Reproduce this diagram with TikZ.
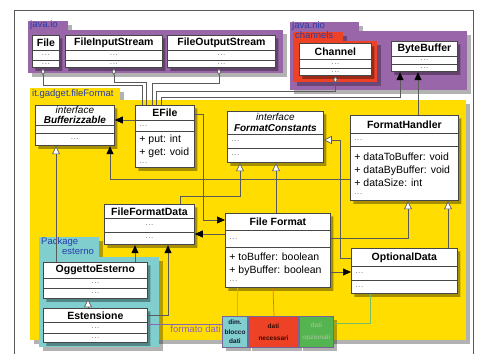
\documentclass[tikz,border=0pt]{standalone}
\usepackage{fontspec}
\setmainfont{Liberation Sans}
\usetikzlibrary{arrows.meta,positioning,shadows,shapes.multipart}

\definecolor{pkgpurple}{RGB}{153,102,170}
\definecolor{pkgred}{RGB}{238,66,38}
\definecolor{pkgyellow}{RGB}{255,221,0}
\definecolor{pkgteal}{RGB}{128,206,206}
\definecolor{datagreen}{RGB}{84,180,80}
\definecolor{stripline}{RGB}{120,100,150}
\definecolor{pkgtext}{RGB}{40,60,170}
\definecolor{connline}{RGB}{90,90,90}
\definecolor{classline}{RGB}{70,70,70}
\definecolor{dotgray}{RGB}{110,110,110}
\definecolor{fmtpurple}{RGB}{140,100,180}
\definecolor{optgreen}{RGB}{150,195,140}
\definecolor{reqtext}{RGB}{60,10,0}
\definecolor{celltext}{RGB}{20,20,50}

% compartments of a class box: width, height, contents
\newcommand{\compartc}[3]{\parbox[c][#2pt][c]{#1pt}{\centering #3}}
\newcommand{\compartl}[3]{\parbox[c][#2pt][c]{#1pt}{\raggedright\leftskip=4pt #3}}
\newcommand{\umldots}{{\color{dotgray}\fontsize{8}{8}\selectfont.\kern0.6pt.\kern0.6pt.}}

\begin{document}
\begin{tikzpicture}[x=1pt, y=-1pt,
    umlclass/.style={rectangle split, rectangle split parts=3, anchor=north west, draw=classline, line width=0.8pt, fill=white, inner sep=0pt, font=\fontsize{10.5}{12.5}\selectfont, drop shadow={shadow xshift=3pt, shadow yshift=-3pt, fill=black, opacity=0.35}},
    pkgshadow/.style={drop shadow={shadow xshift=4pt, shadow yshift=-4pt, fill=black, opacity=0.3}},
    pkgbody/.style={pkgshadow, anchor=north west, inner sep=0pt},
    pkgtab/.style={pkgshadow, anchor=south west, inner xsep=2pt, inner ysep=0pt, align=left, text height=6.5pt, text depth=2pt, font=\fontsize{9.5}{10}\selectfont, text=pkgtext},
    datacell/.style={anchor=north west, minimum height=31pt, inner sep=0pt, draw=stripline, line width=1pt, align=center, drop shadow={shadow xshift=3pt, shadow yshift=-3pt, fill=black, opacity=0.3}},
    conn/.style={draw=connline, line width=0.7pt},
    assoc/.style={conn, -{Triangle[length=8pt, width=7pt, color=black]}},
    realize/.style={conn, -{Triangle[length=8pt, width=8pt, fill=white]}},
    aggr/.style={conn, {Diamond[length=7pt, width=4.5pt, fill=white]}-}
    ]

    \useasboundingbox (0,0) rectangle (481,353);
    \fill[white] (0,0) rectangle (481,353);
    \draw[black!65, line width=1pt] (14,360) -- (14,11) -- (473,11) -- (473,360);

    % packages
    \node[pkgtab, fill=pkgpurple, text width=36pt, minimum height=8pt] (javaiotab) at (28,30) {java.io};
    \node[pkgbody, fill=pkgpurple, minimum width=255pt, minimum height=43pt] (javaio) at (28,30) {};

    \node[pkgtab, fill=pkgpurple, text width=65pt, minimum height=9pt] (javaniotab) at (290,31) {java.nio};
    \node[pkgbody, fill=pkgpurple, minimum width=177pt, minimum height=59pt] (javanio) at (290,31) {};

    \node[pkgtab, fill=pkgred, text width=46pt, minimum height=9pt] (channelstab) at (293,41) {channels};
    \node[pkgbody, fill=pkgred, minimum width=84pt, minimum height=41pt] (channels) at (293,41) {};

    \node[pkgtab, fill=pkgyellow, text width=86pt, minimum height=12pt] (fileformattab) at (30,100) {it.gadget.fileFormat};
    \node[pkgbody, fill=pkgyellow, minimum width=436pt, minimum height=240pt] (fileformat) at (30,100) {};

    \node[pkgtab, fill=pkgteal, text width=56pt, minimum height=20pt, text depth=11pt] (esternotab) at (39,257) {Package\\\hspace*{21pt}esterno};
    \node[pkgbody, fill=pkgteal, minimum width=120pt, minimum height=90pt] (esterno) at (39,257) {};

    % data block
    \node[datacell, fill=pkgteal, minimum width=25pt, text=celltext, font=\fontsize{6.5}{9.5}\selectfont\bfseries] (dimcell) at (222,316) {dim.\\blocco\\dati};
    \node[datacell, fill=pkgred, minimum width=50pt, right=0pt of dimcell, text=reqtext, font=\fontsize{6.5}{12}\selectfont\bfseries] (reqcell) {dati\\necessari};
    \node[datacell, fill=datagreen, minimum width=34pt, right=0pt of reqcell, text=optgreen, font=\fontsize{6.5}{12}\selectfont\bfseries] (optcell) {dati\\opzionali};

    % java.io / java.nio classes
    \node[umlclass] (file) at (32,35) {\compartc{27}{14}{\bfseries File}\nodepart{two}\compartc{27}{9}{\umldots}\nodepart{three}\compartc{27}{7}{\umldots}};
    \node[umlclass] (fistream) at (65,35) {\compartc{97}{14}{\bfseries FileInputStream}\nodepart{two}\compartc{97}{9}{\umldots}\nodepart{three}\compartc{97}{7}{\umldots}};
    \node[umlclass] (fostream) at (167,35) {\compartc{108}{14}{\bfseries FileOutputStream}\nodepart{two}\compartc{108}{9}{\umldots}\nodepart{three}\compartc{108}{7}{\umldots}};
    \node[umlclass] (channel) at (299,43) {\compartc{72}{15}{\bfseries Channel}\nodepart{two}\compartc{72}{8}{\umldots}\nodepart{three}\compartc{72}{7}{\umldots}};
    \node[umlclass] (bytebuf) at (391,41) {\compartc{66}{14}{\bfseries ByteBuffer}\nodepart{two}\compartc{66}{7}{\umldots}\nodepart{three}\compartc{66}{7}{\umldots}};

    % it.gadget.fileFormat classes
    \node[umlclass] (bufint) at (35,105) {\compartc{79}{19}{\fontsize{10}{10}\selectfont\itshape interface\\\bfseries Bufferizzable}\nodepart{two}\compartc{79}{7}{}\nodepart{three}\compartc{79}{12}{\umldots}};
    \node[umlclass] (efile) at (135,105) {\compartc{59}{14}{\bfseries EFile}\nodepart{two}\compartl{59}{10}{\umldots}\nodepart{three}\compartl{59}{36}{+ put: int\\+ get: void\\[-4.5pt]\umldots}};
    \node[umlclass] (fconst) at (227,111) {\compartc{96}{22}{\fontsize{10}{11}\selectfont\itshape interface\\\bfseries FormatConstants}\nodepart{two}\compartl{96}{13}{\umldots}\nodepart{three}\compartl{96}{14}{\umldots}};
    \node[umlclass] (fhandler) at (350,115) {\compartc{108}{17}{\bfseries FormatHandler}\nodepart{two}\compartl{108}{12}{\umldots}\nodepart{three}\compartl{108}{54}{\fontsize{10.5}{13}\selectfont + dataToBuffer: void\\+ dataByBuffer: void\\+ dataSize: int\\[-5pt]\umldots}};
    \node[umlclass] (ffdata) at (104,204) {\compartc{90}{13}{\bfseries FileFormatData}\nodepart{two}\compartc{90}{13}{\umldots}\nodepart{three}\compartc{90}{12}{\umldots}};
    \node[umlclass] (ffmt) at (225,213) {\compartc{105}{16}{\bfseries File Format}\nodepart{two}\compartl{105}{16}{\umldots}\nodepart{three}\compartl{105}{40}{+ toBuffer: boolean\\+ byBuffer: boolean\\[-4.5pt]\umldots}};
    \node[umlclass] (optdata) at (351,248) {\compartc{106}{17}{\bfseries OptionalData}\nodepart{two}\compartl{106}{13}{\umldots}\nodepart{three}\compartl{106}{13}{\umldots}};

    % Package esterno classes
    \node[umlclass] (oggetto) at (43,262) {\compartc{104}{15}{\bfseries OggettoEsterno}\nodepart{two}\compartc{104}{9}{\umldots}\nodepart{three}\compartc{104}{10}{\umldots}};
    \node[umlclass] (estens) at (43,308) {\compartc{104}{13}{\bfseries Estensione}\nodepart{two}\compartc{104}{10}{\umldots}\nodepart{three}\compartc{104}{9}{\umldots}};

    % EFile and the library classes
    \draw[aggr] ([xshift=11pt]file.south west) -- ++(0,17) -| ([xshift=7pt]efile.north west);
    \draw[aggr] (fistream.south) -- ++(0,14) -| ([xshift=11pt]efile.north west);
    \draw[aggr] ([xshift=52pt]fostream.south west) -- ++(0,15) -| ([xshift=17pt]efile.north west);
    \draw[aggr] (channel.south) -- ++(0,15) -| ([xshift=21pt]efile.north west);
    \draw[assoc] ([xshift=26pt]efile.north west) -- ++(0,-8) -| ([xshift=9pt]bytebuf.south west);
    \draw[assoc] ([xshift=68pt]fhandler.north west) -- ([xshift=27pt]bytebuf.south west);

    % Bufferizzable
    \draw[assoc] ([yshift=-15pt]efile.north west) -- ([yshift=-15pt]bufint.north east);
    \draw[assoc] ([yshift=-64pt]fhandler.north west) -| ([xshift=75pt]bufint.south west);
    \draw[realize] ([xshift=13pt]oggetto.north west) -- ([xshift=21pt]bufint.south west);

    % FormatConstants and FormatHandler
    \draw[realize] ([xshift=76pt]ffdata.north west) -- ++(0,-8) -| ([xshift=13pt]fconst.south west);
    \draw[realize] ([xshift=51pt]ffmt.north west) -- ([xshift=49pt]fconst.south west);
    \draw[realize] ([yshift=-10pt]optdata.north west) -- ++(-11,0) |- ([yshift=-29pt]fconst.north east);
    \draw[realize] ([yshift=-25pt]ffmt.north east) -| ([xshift=58pt]fhandler.south west);
    \draw[realize] ([xshift=97pt]optdata.north west) -- ([xshift=98pt]fhandler.south west);

    % File Format
    \draw[assoc] ([yshift=-9pt]efile.north east) -- ++(9,0) |- ([yshift=-7pt]ffmt.north west);
    \draw[assoc] ([yshift=-59pt]ffmt.north east) -- ([yshift=-24pt]optdata.north west);
    \draw[assoc] ([yshift=-21pt]ffmt.north west) -- ([yshift=-30pt]ffdata.north east);

    % FileFormatData and the external package
    \draw[assoc] ([xshift=92pt]oggetto.north west) -- ([xshift=31pt]ffdata.south west);
    \draw[assoc] ([yshift=-7pt]estens.north east) -| ([xshift=64pt]ffdata.south west);
    \draw[realize] ([xshift=45pt]estens.north west) -- ([xshift=45pt]oggetto.south west);

    % data block links
    \draw[fmtpurple, line width=0.7pt] ([yshift=-16pt]estens.north east) -- node[pos=1, anchor=north east, inner sep=1pt, text=fmtpurple, font=\fontsize{9.5}{10}\selectfont] (fmtlabel) {formato dati} ([yshift=-8pt]dimcell.north west);
    \draw[draw={rgb,255:red,120;green,200;blue,170}, line width=0.7pt] ([xshift=12pt]ffmt.south west) -- ([xshift=15pt]dimcell.north west);
    \draw[draw={rgb,255:red,240;green,100;blue,40}, line width=0.7pt] ([xshift=48pt]ffmt.south west) -- ([xshift=26pt]reqcell.north west);
    \draw[draw={rgb,255:red,120;green,190;blue,100}, line width=0.7pt] ([yshift=-7pt]optcell.north east) -| ([xshift=19pt]optdata.south west);

\end{tikzpicture}
\end{document}
